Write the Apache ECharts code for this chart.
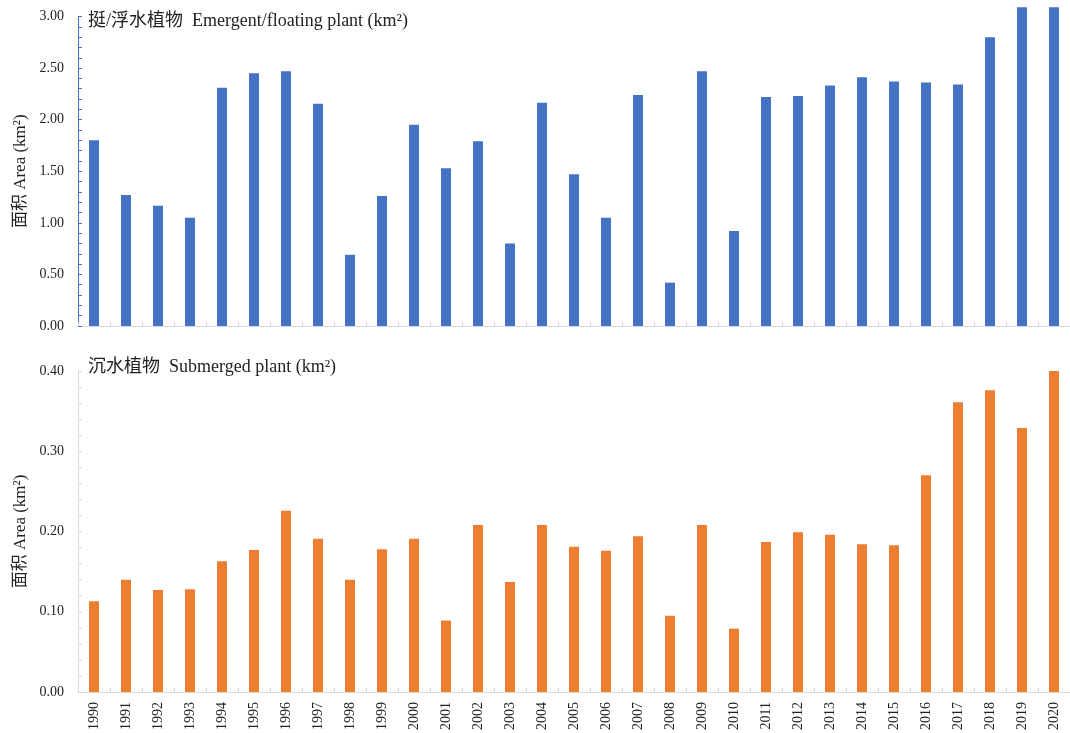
<!DOCTYPE html>
<html>
<head>
<meta charset="utf-8">
<script src="https://cdn.jsdelivr.net/npm/echarts@6/dist/echarts.min.js"></script>
<style>
  html, body { margin: 0; padding: 0; background: #fff; }
  #chart { width: 1070px; height: 733px; }
</style>
</head>
<body>
<div id="chart"></div>
<script>
// Years of observation
const years = ['1990','1991','1992','1993','1994','1995','1996','1997','1998','1999',
  '2000','2001','2002','2003','2004','2005','2006','2007','2008','2009',
  '2010','2011','2012','2013','2014','2015','2016','2017','2018','2019','2020'];

// Emergent / floating plant area, km²
const emergentArea = [1.80, 1.27, 1.165, 1.05, 2.31, 2.45, 2.47, 2.155, 0.69, 1.26,
  1.95, 1.53, 1.79, 0.80, 2.165, 1.47, 1.05, 2.24, 0.42, 2.47,
  0.92, 2.22, 2.23, 2.33, 2.41, 2.37, 2.36, 2.34, 2.80, 3.09, 3.09];

// Submerged plant area, km²
const submergedArea = [0.113, 0.140, 0.127, 0.128, 0.163, 0.177, 0.226, 0.191, 0.140, 0.178,
  0.191, 0.089, 0.208, 0.137, 0.208, 0.181, 0.176, 0.194, 0.095, 0.208,
  0.079, 0.187, 0.199, 0.196, 0.184, 0.183, 0.270, 0.361, 0.376, 0.329, 0.400];

const titles = ['挺/浮水植物  Emergent/floating plant (km²)', '沉水植物  Submerged plant (km²)'];
const yName = '面积 Area (km²)';

const FONT = "'Liberation Serif', 'Times New Roman', 'Noto Sans CJK SC', serif";
const BLUE = '#4472C4';
const ORANGE = '#ED7D31';
const GREY = '#D9D9D9';

const chart = echarts.init(document.getElementById('chart'), null, { renderer: 'canvas' });

function xAxis(gridIndex, showLabels) {
  return {
    type: 'category',
    gridIndex,
    data: years,
    axisLine: { lineStyle: { color: GREY, width: 1 } },
    axisTick: { show: true, inside: true, length: 4, lineStyle: { color: GREY } },
    axisLabel: {
      show: showLabels, rotate: 90, margin: 10, interval: 0,
      fontFamily: FONT, fontSize: 14, color: '#222'
    }
  };
}

function yAxis(gridIndex, max, interval, lineColor, nameGap) {
  return {
    type: 'value',
    gridIndex,
    min: 0, max, interval,
    name: yName,
    nameLocation: 'middle',
    nameRotate: 90,
    nameGap,
    nameTextStyle: { fontFamily: FONT, fontSize: 17, color: '#222' },
    axisLine: { show: true, lineStyle: { color: lineColor, width: 1 } },
    axisTick: { show: true, inside: true, length: 4, lineStyle: { color: lineColor } },
    minorTick: { show: true, splitNumber: 5, length: 4, lineStyle: { color: lineColor } },
    splitLine: { show: false },
    axisLabel: {
      margin: 14, fontFamily: FONT, fontSize: 14, color: '#222',
      formatter: v => v.toFixed(2)
    }
  };
}

const titleStyle = { fontFamily: FONT, fontSize: 18, fontWeight: 'normal', color: '#222' };

chart.setOption({
  animation: false,
  backgroundColor: '#fff',
  title: [
    { text: titles[0], left: 88, top: 12, padding: 0, textStyle: titleStyle },
    { text: titles[1], left: 88, top: 358, padding: 0, textStyle: titleStyle }
  ],
  grid: [
    { left: 78, right: -5, top: 16.5, height: 309.5 },
    { left: 78, right: -5, top: 371, height: 321 }
  ],
  xAxis: [xAxis(0, false), xAxis(1, true)],
  yAxis: [yAxis(0, 3, 0.5, BLUE, 48), yAxis(1, 0.4, 0.1, GREY, 48)],
  series: [
    { type: 'bar', xAxisIndex: 0, yAxisIndex: 0, data: emergentArea,
      barWidth: 10, clip: false, itemStyle: { color: BLUE } },
    { type: 'bar', xAxisIndex: 1, yAxisIndex: 1, data: submergedArea,
      barWidth: 10, clip: false, itemStyle: { color: ORANGE } }
  ]
});
</script>
</body>
</html>
